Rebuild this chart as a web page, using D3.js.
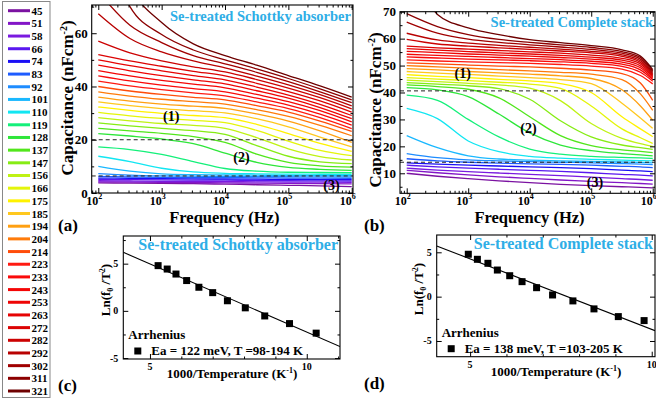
<!DOCTYPE html>
<html>
<head>
<meta charset="utf-8">
<script src="https://cdn.jsdelivr.net/npm/d3@7"></script>
<style>
  body { margin: 0; background: #fff; }
  svg { display: block; }
  text { font-family: "Liberation Serif", "Times New Roman", serif; font-weight: bold; }
</style>
</head>
<body>
<svg id="chart" width="656" height="401"></svg>
<script>
// temperatures (K), legend order
const temps = [45, 51, 58, 66, 74, 83, 92, 101, 110, 119, 128, 137, 147, 156, 166, 175, 185, 194, 204, 214, 223, 233, 243, 253, 263, 272, 282, 292, 302, 311, 321]
const colors = ['#7b12a1', '#8316c7', '#7a1ae0', '#5a18f0', '#1a0ff5', '#1e5cff', '#1e8cff', '#1ab8ff', '#12e6f2', '#14f07a',
  '#2ee63a', '#52e61c', '#86ec14', '#bff214', '#e4f50a', '#fff200', '#ffc81e', '#ffa012', '#ff7b0a', '#ff4d0a',
  '#ff1a12', '#fa0a0a', '#f40606', '#ee0505', '#e60404', '#dc0303', '#cc0202', '#b80101', '#a00000', '#8c0000', '#6e0000']

// (a) Schottky absorber: capacitance (nF/cm2) per temperature
const freqA = [1e2, 316, 1e3, 3162, 1e4, 31623, 1e5, 316228, 1e6]
const capA = [
  [3.8, 3.7, 3.6, 3.5, 3.3, 3.1, 2.9, 2.7, 2.4],
  [4.2, 4.1, 4, 3.9, 3.8, 3.7, 3.6, 3.5, 3.4],
  [4.6, 4.5, 4.4, 4.35, 4.3, 4.2, 4.1, 4.05, 4],
  [5.1, 5, 4.9, 4.85, 4.8, 4.7, 4.6, 4.55, 4.5],
  [5.6, 5.5, 5.4, 5.3, 5.25, 5.2, 5.1, 5.05, 5],
  [6.2, 6, 5.9, 5.8, 5.75, 5.7, 5.6, 5.55, 5.5],
  [7.3, 6.7, 6.4, 6.3, 6.2, 6.15, 6.1, 6.05, 6],
  [10, 8.2, 7.2, 6.9, 6.8, 6.7, 6.6, 6.55, 6.5],
  [13.8, 11.8, 9.3, 7.9, 7.4, 7.2, 7.1, 7.05, 7.0],
  [17.3, 16.3, 14.5, 11.8, 9.2, 8.2, 7.8, 7.7, 7.6],
  [22.3, 21.4, 20.3, 18.5, 15, 11.5, 9.6, 8.9, 8.5],
  [24.3, 23.3, 22.4, 21.2, 19, 14.6, 11.5, 10.2, 9.7],
  [26.3, 25.2, 24.3, 23.4, 22, 17.8, 13.8, 11.7, 11],
  [28.3, 27.1, 26.1, 25.4, 24.3, 20.8, 16.6, 13.7, 12.4],
  [30.3, 29, 28, 27.3, 26.4, 23.5, 19.5, 16, 14],
  [32.3, 31, 29.9, 29.1, 28.3, 25.8, 22.3, 18.6, 15.6],
  [34.2, 32.8, 31.7, 30.9, 30.1, 27.9, 24.8, 21, 17.3],
  [36, 34.5, 33.4, 32.6, 31.8, 29.7, 27, 23.3, 19],
  [38, 36.4, 35.2, 34.3, 33.4, 31.3, 28.8, 25.4, 21.5],
  [40, 38.3, 37, 35.9, 35, 32.8, 30.4, 27, 23.1],
  [42, 40.2, 38.8, 37.6, 36.5, 34.2, 31.7, 28.3, 24.2],
  [44, 42.1, 40.5, 39.2, 38, 35.6, 33, 29.6, 25.5],
  [46, 44, 42.3, 40.9, 39.5, 37, 34.3, 30.9, 26.7],
  [48, 45.9, 44.1, 42.5, 41, 38.4, 35.6, 32.1, 27.9],
  [50, 47.8, 45.9, 44.1, 42.5, 39.8, 36.8, 33.3, 29.1],
  [52, 49.6, 47.6, 45.7, 44, 41.2, 38.1, 34.6, 30.4],
  [57, 52.6, 49.6, 47.4, 45.5, 42.6, 39.4, 35.8, 31.6],
  [67.3, 58, 53, 49.6, 47, 43.9, 40.6, 36.9, 32.7],
  [75.5, 63, 56.5, 51.6, 48.5, 45.3, 41.8, 38, 33.9],
  [100, 70, 59.5, 53.7, 50, 46.6, 43, 39.1, 35],
  [110, 77.6, 64, 56, 51.6, 48, 44.1, 40.2, 36]
]
const dashA = [20, 6.4]

// (b) complete stack
const freqB = [1e2, 316, 1e3, 3162, 1e4, 31623, 1e5, 316228, 630957, 1e6]
const capB = [
  [10, 8.9, 8, 7.2, 6.5, 5.9, 5.4, 5.0, 4.8, 4.6],
  [11.1, 10.2, 9.4, 8.7, 8.1, 7.5, 7, 6.5, 6.2, 6],
  [11.9, 11.2, 10.6, 10.1, 9.6, 9.1, 8.6, 8, 7.7, 7.4],
  [13, 12.4, 11.9, 11.5, 11.1, 10.7, 10.2, 9.6, 9.3, 9],
  [13.9, 13.4, 13, 12.7, 12.4, 12.1, 11.7, 11.2, 10.9, 10.6],
  [15.4, 14.6, 14.1, 13.8, 13.5, 13.3, 13, 12.6, 12.4, 12.1],
  [17.3, 15.8, 15, 14.6, 14.3, 14.1, 13.9, 13.6, 13.4, 13.2],
  [24, 19.5, 16.5, 15.3, 14.9, 14.6, 14.4, 14.2, 14.05, 13.9],
  [34.1, 30.3, 22, 18, 16.3, 15.6, 15.2, 14.9, 14.7, 14.6],
  [39, 37.1, 30, 23.5, 19, 17.1, 16.3, 15.9, 15.7, 15.5],
  [41.8, 41, 38.5, 32, 25, 20.5, 18.4, 17.3, 16.8, 16.5],
  [42.8, 42.2, 41.2, 38, 31, 24, 20.3, 18.7, 18.1, 17.7],
  [43.7, 43.1, 42.5, 41.4, 37.5, 29.5, 23.5, 20.5, 19.5, 18.9],
  [44.6, 44, 43.4, 42.8, 41.6, 37, 28.5, 23, 21, 20],
  [45.5, 45, 44.4, 43.8, 43.1, 41.5, 35, 26.5, 23.2, 21.1],
  [46.6, 46, 45.5, 44.9, 44.3, 43.3, 40, 31, 26.5, 23.6],
  [47.8, 47.2, 46.7, 46.1, 45.5, 44.8, 43.3, 36, 30.5, 26.7],
  [48.9, 48.4, 47.8, 47.3, 46.8, 46.2, 45.2, 41, 35, 29.7],
  [50, 49.5, 49, 48.5, 48, 47.5, 46.8, 44.8, 39.5, 33.4],
  [51, 50.6, 50.2, 49.8, 49.5, 49, 48.3, 47, 43.5, 37.1],
  [52.1, 51.7, 51.4, 51.1, 50.8, 50.4, 49.8, 48.7, 46.3, 43.2],
  [53.2, 52.8, 52.4, 52.1, 51.8, 51.4, 50.8, 49.7, 47.5, 44.2],
  [54.2, 53.8, 53.4, 53, 52.6, 52.2, 51.6, 50.5, 48.4, 44.8],
  [55.3, 54.8, 54.3, 53.9, 53.5, 53, 52.4, 51.3, 49.2, 45.3],
  [56.3, 55.7, 55.2, 54.7, 54.3, 53.8, 53.1, 52, 49.9, 45.8],
  [57.2, 56.6, 56.1, 55.6, 55.1, 54.6, 53.9, 52.7, 50.6, 46.2],
  [59.7, 58, 57.2, 56.6, 56, 55.4, 54.7, 53.4, 51.2, 46.6],
  [62, 59.5, 58.3, 57.5, 56.8, 56.1, 55.3, 54, 51.8, 47],
  [66.1, 62, 59.8, 58.6, 57.7, 56.9, 56, 54.6, 52.4, 47.5],
  [69.3, 64.5, 61.5, 59.7, 58.6, 57.7, 56.7, 55.2, 53, 48],
  [100, 69, 64, 61.5, 59.6, 58.5, 57.4, 55.8, 53.5, 48.5]
]
const dashB = [40.6, 14.1]

// (c) and (d) Arrhenius: 1000/T and ln(f0/T^2)
const invTC = [5.26, 5.55, 5.83, 6.17, 6.56, 7.0, 7.47, 8.04, 8.66, 9.45, 10.3]
const lnC = [4.79, 4.43, 3.9, 3.21, 2.5, 1.93, 1.07, 0.32, -0.54, -1.35, -2.36]
const fitC = [[4.15, 6.2], [11.06, -3.78]]
const invTD = [4.95, 5.2, 5.49, 5.75, 6.09, 6.43, 6.83, 7.27, 7.83, 8.41, 9.08, 9.79]
const lnD = [4.78, 4.21, 3.76, 3.0, 2.36, 1.69, 1.01, 0.19, -0.48, -1.38, -2.25, -2.7]
const fitD = [[4.08, 5.72], [10.09, -3.83]]

const titleA = 'Se-treated Schottky absorber'
const titleB = 'Se-treated Complete stack'
const blue = '#2eaee6'

const svg = d3.select('#chart')

// ticks on all four sides, pointing inward
function boxTicks(g, x, y, xMajor, xMinor, yMajor, yMinor) {
  const [x0, x1] = x.range(), [y0, y1] = y.range()
  const clean = s => s.call(a => a.select('.domain').remove()).selectAll('text').remove()
  ;[[xMajor, 5], [xMinor, 2.5]].forEach(([vals, len]) => {
    g.append('g').attr('transform', `translate(0,${y0})`).call(d3.axisBottom(x).tickValues(vals).tickSize(-len)).call(clean)
    g.append('g').attr('transform', `translate(0,${y1})`).call(d3.axisTop(x).tickValues(vals).tickSize(-len)).call(clean)
  })
  ;[[yMajor, 5], [yMinor, 2.5]].forEach(([vals, len]) => {
    g.append('g').attr('transform', `translate(${x0},0)`).call(d3.axisLeft(y).tickValues(vals).tickSize(-len)).call(clean)
    g.append('g').attr('transform', `translate(${x1},0)`).call(d3.axisRight(y).tickValues(vals).tickSize(-len)).call(clean)
  })
  g.selectAll('.tick line').attr('stroke', '#000')
  g.append('rect').attr('x', x0).attr('y', y1).attr('width', x1 - x0).attr('height', y0 - y1)
    .attr('fill', 'none').attr('stroke', '#000').attr('stroke-width', 1.1)
}

function cvPanel(o) {
  const x = d3.scaleLog().domain(o.xDom).range([o.left, o.right])
  const y = d3.scaleLinear().domain(o.yDom).range([o.bottom, o.top])
  const g = svg.append('g')

  svg.append('clipPath').attr('id', o.id).append('rect')
    .attr('x', o.left).attr('y', o.top).attr('width', o.right - o.left).attr('height', o.bottom - o.top)

  const line = d3.line().x((d, i) => x(o.freq[i])).y(d => y(d)).curve(d3.curveMonotoneX)
  const plot = g.append('g').attr('clip-path', `url(#${o.id})`)
  plot.selectAll('path.c').data(o.caps).join('path').attr('class', 'c')
    .attr('d', line).attr('fill', 'none').attr('stroke', (d, i) => colors[i]).attr('stroke-width', 1.3)

  plot.selectAll('line.dash').data(o.dash).join('line').attr('class', 'dash')
    .attr('x1', o.left).attr('x2', o.right).attr('y1', d => y(d)).attr('y2', d => y(d))
    .attr('stroke', '#222').attr('stroke-width', 1).attr('stroke-dasharray', '4,3')

  const decades = [1e2, 1e3, 1e4, 1e5, 1e6]
  const minor = x.ticks().filter(v => !decades.includes(v))
  boxTicks(g, x, y, decades, minor, o.yMajor, o.yMinor)

  // x tick labels 10^n
  decades.forEach((v, i) => {
    const t = g.append('text').attr('x', x(v) - 4).attr('y', o.bottom + 11.5).attr('text-anchor', 'middle').attr('font-size', 12)
    t.append('tspan').text('10')
    t.append('tspan').attr('dy', -6).attr('font-size', 8).text(String(i + 2))
  })
  g.selectAll('text.yl').data(o.yLabels).join('text').attr('class', 'yl')
    .attr('x', o.left - 4).attr('y', d => y(d) + 4.5).attr('text-anchor', 'end').attr('font-size', 13).text(d => d)

  g.append('text').attr('x', (o.left + o.right) / 2 + 2).attr('y', o.bottom + 29.5)
    .attr('text-anchor', 'middle').attr('font-size', 16.5).text('Frequency (Hz)')
  const yl = g.append('text').attr('transform', `translate(${o.yTitleX},${o.yTitleY}) rotate(-90)`)
    .attr('text-anchor', 'middle').attr('font-size', 17)
  yl.append('tspan').text('Capacitance (nFcm')
  yl.append('tspan').attr('dy', -6).attr('font-size', 10).text('-2')
  yl.append('tspan').attr('dy', 6).text(')')

  g.append('text').attr('x', o.right - 2).attr('y', o.top + o.titleDy).attr('text-anchor', 'end')
    .attr('font-size', 14.5).attr('fill', blue).text(o.title)

  o.regions.forEach(r => {
    g.append('text').attr('x', x(r[1])).attr('y', y(r[2]) + 5).attr('text-anchor', 'middle').attr('font-size', 14).text(r[0])
  })
}

function arrPanel(o) {
  const x = d3.scaleLinear().domain(o.xDom).range([o.left, o.right])
  const y = d3.scaleLinear().domain(o.yDom).range([o.bottom, o.top])
  const g = svg.append('g')
  svg.append('clipPath').attr('id', o.id).append('rect')
    .attr('x', o.left).attr('y', o.top).attr('width', o.right - o.left).attr('height', o.bottom - o.top)

  boxTicks(g, x, y, [5, 10], d3.range(5, 12, 1).filter(v => v !== 5 && v !== 10 && v <= o.xDom[1]),
    [-5, 0, 5], [-2.5, 2.5].concat(o.yDom[1] > 7.5 ? [7.5] : []))

  g.append('path').attr('clip-path', `url(#${o.id})`).datum(o.fit)
    .attr('d', d3.line().x(d => x(d[0])).y(d => y(d[1])))
    .attr('fill', 'none').attr('stroke', '#000').attr('stroke-width', 1.1)

  g.selectAll('rect.pt').data(o.xs).join('rect').attr('class', 'pt')
    .attr('x', d => x(d) - 3.5).attr('y', (d, i) => y(o.ys[i]) - 3.5).attr('width', 7).attr('height', 7).attr('fill', '#000')

  g.selectAll('text.xl').data([5, 10]).join('text').attr('class', 'xl')
    .attr('x', d => x(d)).attr('y', o.bottom + 11).attr('text-anchor', 'middle').attr('font-size', 10).text(d => d)
  g.selectAll('text.yl').data([-5, 0, 5]).join('text').attr('class', 'yl')
    .attr('x', o.left - 5).attr('y', d => y(d) + 3.5).attr('text-anchor', 'end').attr('font-size', 10).text(d => d)

  const xt = g.append('text').attr('x', o.xTitleX).attr('y', o.bottom + 19).attr('text-anchor', 'middle').attr('font-size', 13)
  xt.append('tspan').text('1000/Temperature (K')
  xt.append('tspan').attr('dy', -5).attr('font-size', 8).text('-1')
  xt.append('tspan').attr('dy', 5).text(')')

  const yt = g.append('text').attr('transform', `translate(${o.yTitleX},${o.yTitleY}) rotate(-90)`)
    .attr('text-anchor', 'middle').attr('font-size', 13)
  yt.append('tspan').text('Ln(f')
  yt.append('tspan').attr('dy', 3).attr('font-size', 8).text('0')
  yt.append('tspan').attr('dy', -3).text(' /T')
  yt.append('tspan').attr('dy', -5).attr('font-size', 8).text('2')
  yt.append('tspan').attr('dy', 5).text(')')

  g.append('text').attr('x', o.right - 2).attr('y', o.top + 14).attr('text-anchor', 'end')
    .attr('font-size', 16).attr('fill', blue).text(o.title)

  g.append('text').attr('x', o.left + 5).attr('y', o.bottom - 20).attr('font-size', 13).text('Arrhenius')
  g.append('rect').attr('x', o.left + 11).attr('y', o.bottom - 11.5).attr('width', 7).attr('height', 7).attr('fill', '#000')
  g.append('text').attr('x', o.left + 28).attr('y', o.bottom - 4).attr('font-size', 13).text(o.legend)
}

cvPanel({
  id: 'clipA', freq: freqA, caps: capA, dash: dashA, title: titleA, titleDy: 16,
  left: 91.7, right: 353, top: 5, bottom: 193,
  xDom: [Math.pow(10, 1.896), Math.pow(10, 6.02)], yDom: [0, 70.6],
  yMajor: [0, 20, 40, 60], yMinor: [10, 30, 50, 70], yLabels: [0, 20, 40, 60],
  yTitleX: 73, yTitleY: 98,
  regions: [['(1)', Math.pow(10, 3.15), 28.9], ['(2)', Math.pow(10, 4.26), 13.5], ['(3)', Math.pow(10, 5.68), 2.9]]
})
cvPanel({
  id: 'clipB', freq: freqB, caps: capB, dash: dashB, title: titleB, titleDy: 15,
  left: 400, right: 655, top: 11.7, bottom: 193.3,
  xDom: [Math.pow(10, 1.891), Math.pow(10, 6.037)], yDom: [2.57, 70],
  yMajor: [10, 20, 30, 40, 50, 60, 70], yMinor: [5, 15, 25, 35, 45, 55, 65], yLabels: [10, 20, 30, 40, 50, 60, 70],
  yTitleX: 381, yTitleY: 110,
  regions: [['(1)', Math.pow(10, 2.91), 47.1], ['(2)', Math.pow(10, 3.98), 26.9], ['(3)', Math.pow(10, 5.06), 6.9]]
})
arrPanel({
  id: 'clipC', xs: invTC, ys: lnC, fit: fitC, title: titleA, legend: 'Ea = 122 meV, T =98-194 K',
  left: 123.3, right: 340, top: 236, bottom: 359, xDom: [4.15, 11.06], yDom: [-5.1, 7.93],
  xTitleX: 232, yTitleX: 110, yTitleY: 290
})
arrPanel({
  id: 'clipD', xs: invTD, ys: lnD, fit: fitD, title: titleB, legend: 'Ea = 138 meV, T =103-205 K',
  left: 436.7, right: 655, top: 235, bottom: 356.7, xDom: [4.08, 10.09], yDom: [-6.77, 6.95],
  xTitleX: 556, yTitleX: 423, yTitleY: 289
})

// panel letters
;[['(a)', 58, 231], ['(b)', 364, 231], ['(c)', 58, 391], ['(d)', 364, 389]].forEach(d => {
  svg.append('text').attr('x', d[1]).attr('y', d[2]).attr('font-size', 17).text(d[0])
})

// temperature legend
const leg = svg.append('g')
leg.append('rect').attr('x', 2.5).attr('y', 1.5).attr('width', 47.5).attr('height', 396)
  .attr('fill', 'none').attr('stroke', '#888').attr('stroke-width', 1)
const ly = d3.scalePoint().domain(temps).range([10.7, 391])
leg.selectAll('line').data(temps).join('line')
  .attr('x1', 8).attr('x2', 30).attr('y1', d => ly(d)).attr('y2', d => ly(d))
  .attr('stroke', (d, i) => colors[i]).attr('stroke-width', 3)
leg.selectAll('text').data(temps).join('text')
  .attr('x', 31.5).attr('y', d => ly(d) + 4).attr('font-size', 11).text(d => d)
</script>
</body>
</html>
